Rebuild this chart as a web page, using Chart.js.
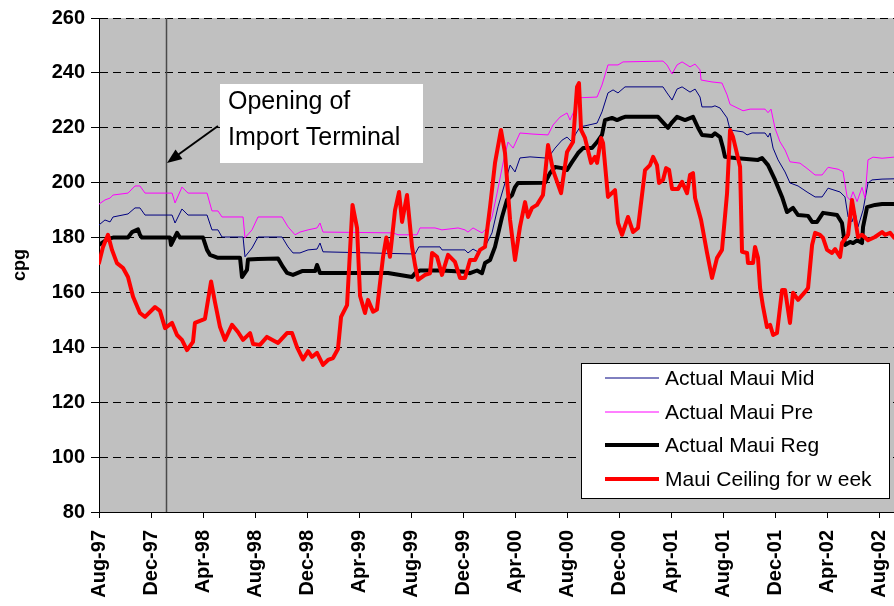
<!DOCTYPE html>
<html>
<head>
<meta charset="utf-8">
<script src="https://cdn.jsdelivr.net/npm/chart.js@4.4.0/dist/chart.umd.min.js"></script>
<style>
  html, body { margin: 0; padding: 0; background: #fff; }
</style>
</head>
<body>
<canvas id="myChart" width="894" height="606"></canvas>
<script>
// x values are months since Aug-97, y values are cents per gallon
var tickLabels = ['Aug-97', 'Dec-97', 'Apr-98', 'Aug-98', 'Dec-98', 'Apr-99', 'Aug-99', 'Dec-99',
                  'Apr-00', 'Aug-00', 'Dec-00', 'Apr-01', 'Aug-01', 'Dec-01', 'Apr-02', 'Aug-02'];
var lastMonth = 61.15;
var terminalOpen = 5.15; // opening of import terminal (early Jan-98)

var mauiMid = [[0,184.6],[0.46,186.4],[0.85,185.7],[1.08,187.5],[2.23,188.6],[2.77,190.8],[3.15,190.8],[3.54,188.2],
  [5.62,188.2],[5.85,185.3],[6.38,190.4],[6.85,188.2],[8.31,188.2],[8.69,182.8],[9.15,182.8],[9.46,180.2],
  [11.08,180.2],[11.23,173],[11.77,176.2],[12.23,180.2],[14.08,180.2],[14.54,176.6],[14.92,174.4],[15.46,174.4],
  [16.08,175.5],[16.77,175.8],[17.0,178],[17.23,174.8],[24.31,174],[24.6,176.6],[26.23,176.6],[26.38,175.5],
  [28.15,175.5],[28.38,174.4],[28.77,175.8],[29.15,174.8],[29.69,176.6],[30.23,181.7],[30.69,191.2],[31.23,199.9],
  [31.62,206.4],[32.0,203.9],[32.38,209],[33.15,209.4],[34.31,209],[34.69,210],[35.08,212.6],[35.62,215.5],
  [36.0,216.6],[36.38,214.8],[36.62,217.4],[37.0,220.3],[38.31,221.7],[38.69,225.8],[39.15,232.7],[39.54,233.8],
  [39.92,232.7],[40.46,234.9],[43.38,234.9],[43.69,232.7],[44.08,230.1],[44.46,234.1],[44.85,234.9],[45.46,233],
  [45.85,234.1],[46.23,231.2],[46.38,227.6],[47.15,227.6],[47.38,228],[47.77,227.2],[48.31,223.6],[48.54,219.2],
  [49.54,218.5],[49.85,217.4],[50.23,218.1],[51.23,218.1],[51.46,216.6],[51.62,218.1],[51.85,212.6],[52.23,208.3],
  [52.77,203.9],[53.15,199.9],[53.77,198.8],[54.46,196.6],[55.08,194.8],[55.62,194.8],[56.08,198],[57.0,196.6],
  [57.38,194.8],[57.62,187.5],[57.92,185.7],[58.15,189.3],[58.38,183.9],[58.77,190],[59.15,199.9],[59.46,201],
  [60.23,201.3],[61.15,201.4]];

var mauiPre = [[0,192.2],[0.46,193.7],[0.85,194.4],[1.08,195.5],[2.23,196.2],[2.77,198.8],[3.15,198.8],[3.54,196.2],
  [5.62,196.2],[5.85,192.6],[6.38,198.4],[6.85,196.2],[8.31,196.2],[8.69,189.7],[9.15,189.7],[9.46,187.5],
  [11.08,187.5],[11.23,179.9],[11.77,182.8],[12.23,187.5],[14.08,187.5],[14.54,183.9],[15.08,181],[15.46,182],
  [16.08,182.8],[16.77,183.5],[17.0,185.3],[17.23,182],[22.62,181.7],[23.0,181],[24.46,181],[24.69,183.5],
  [25.85,183.5],[26.38,182.8],[27.62,183.5],[28.15,182.8],[28.38,182],[28.77,183.5],[29.46,181.7],[29.85,183.5],
  [30.23,187.5],[30.62,196.2],[31.08,207.2],[31.46,214.8],[31.85,212.6],[32.38,218.1],[33.38,217.7],[34.54,217.4],
  [34.92,221],[35.46,223.9],[36.0,225.4],[36.23,222.8],[36.62,227],[36.77,230.9],[38.31,231.2],[38.69,235.6],
  [39.15,242.9],[39.92,242.9],[40.31,244],[43.38,244.3],[43.69,242.9],[44.08,239.6],[44.46,242.9],[44.85,244],
  [45.46,242.2],[45.85,243.2],[46.23,241.1],[46.31,237.4],[47.15,236.7],[47.92,236.3],[48.31,232],[48.54,228.5],
  [49.54,226.2],[50.08,226.8],[51.23,226.8],[51.46,225.5],[51.69,226.8],[52.0,219.8],[52.38,214.9],[52.77,211.9],
  [53.15,207.6],[53.92,207.1],[54.46,205.2],[55.08,202.8],[55.62,202.8],[56.08,205.6],[56.85,204.9],[57.23,204],
  [57.54,194.9],[57.77,193.7],[58.0,196.7],[58.31,193.1],[58.69,198.3],[58.92,194.3],[59.15,208.3],[59.54,209.3],
  [60.23,208.9],[61.15,209.3]];

var mauiReg = [[0,177.3],[0.69,179.5],[1.08,180],[2.23,180],[2.54,182],[3.0,183],[3.15,181],[3.3,180],
  [5.46,180],[5.54,177.3],[6.0,181.7],[6.23,180],[8.0,180],[8.31,175.5],[8.54,173.7],[9.15,172.6],
  [10.85,172.6],[11.0,165.6],[11.38,168.2],[11.46,172],[12.23,172.2],[13.77,172.4],[14.15,169.3],[14.46,167.1],
  [14.92,166.4],[15.62,167.8],[16.62,167.8],[16.77,170],[17.0,167.1],[22.23,167.1],[24.08,165.6],[24.31,167],
  [24.69,168],[26.38,168],[28.15,167.5],[28.54,167],[29.08,168],[29.46,167],[29.69,170.7],[30.08,171.8],
  [30.46,176.6],[31.0,187.5],[31.38,193.7],[31.77,195.5],[32.0,198.4],[32.23,199.9],[34.31,200],[34.69,203.5],
  [35.08,205.7],[35.62,205.3],[36.0,204.6],[36.38,207.5],[36.85,210.8],[37.23,212.6],[37.92,212.6],[38.31,214.8],
  [38.69,217.4],[38.92,222.8],[39.46,223.6],[39.85,222.8],[40.23,223.6],[40.46,224],[43.0,224],[43.38,222],
  [43.77,220],[44.08,222],[44.46,224],[45.08,222.8],[45.69,224],[46.08,220],[46.38,217.4],[47.15,217],
  [47.38,218],[47.77,216.6],[48.0,212.6],[48.15,209.4],[48.92,209],[50.69,208.3],[51.0,209],[51.46,206.4],
  [52.0,201],[52.54,194.8],[52.92,189.3],[53.38,190.8],[53.77,188.2],[54.54,187.9],[54.85,185.7],[55.23,185.7],
  [55.69,189],[56.77,188.2],[57.15,185.3],[57.38,177.3],[57.77,178.4],[58.0,178],[58.31,179],[58.69,178],
  [58.77,183.9],[59.08,191.1],[59.69,191.9],[60.23,192.2],[61.15,192.2]];

var mauiCeiling = [[0,170.7],[0.31,176.6],[0.69,181],[1.0,175.5],[1.38,170.7],[1.85,168.9],[2.23,165.6],[2.62,158.4],
  [3.15,152.5],[3.54,151.1],[4.31,154.7],[4.69,153.3],[5.08,147],[5.62,148.9],[6.0,144.5],[6.38,142.7],
  [6.77,139],[7.23,142],[7.38,148.9],[8.15,150.4],[8.62,164],[8.92,156.5],[9.31,147.4],[9.69,142.7],
  [10.23,148.2],[10.69,145.6],[11.08,142.7],[11.62,145.2],[11.85,141.2],[12.38,140.9],[12.92,143.8],[13.77,141.6],
  [14.46,145.2],[14.85,145.2],[15.23,140.1],[15.69,135.6],[16.08,138.6],[16.38,136.5],[16.77,138],[17.23,133.6],
  [17.62,135.4],[18.0,136.1],[18.38,139.4],[18.62,151.1],[19.08,155.4],[19.5,191.9],[19.85,183.4],[20.08,158.7],
  [20.46,152.5],[20.69,157.3],[21.08,153],[21.38,153.8],[21.85,173],[22.1,180],[22.38,173],[22.77,190],
  [23.08,196.6],[23.31,185.7],[23.69,195.5],[24.08,176.6],[24.31,170],[24.54,164.6],[25.08,166.4],[25.46,167],
  [25.62,174.4],[26.0,173],[26.38,166.4],[26.85,173.7],[27.38,171.1],[27.77,165.3],[28.15,165.3],[28.54,171.8],
  [28.92,171.8],[29.31,175.5],[29.69,176.6],[30.08,191.2],[30.46,207.2],[30.92,219.2],[31.23,210.8],[31.62,186.4],
  [32.0,171.8],[32.38,183.9],[32.77,192.9],[33.0,187.5],[33.31,190.8],[33.69,191.9],[34.15,195.5],[34.54,213.7],
  [34.92,204.6],[35.54,196.2],[36.0,211.2],[36.46,214.8],[36.77,234.9],[36.92,236.3],[37.08,219.2],[37.38,216.3],
  [37.85,207.2],[38.15,209.4],[38.31,207.2],[38.62,216.3],[38.77,214.5],[39.15,194.8],[39.69,197.3],[39.92,185.3],
  [40.23,181],[40.69,187.5],[41.08,182],[41.46,183.5],[42.0,204.6],[42.38,206.4],[42.62,209.4],[42.92,206.4],
  [43.08,199.9],[43.38,201],[43.62,205.3],[43.85,204.6],[44.08,197.7],[44.54,197.7],[44.85,200.3],[45.23,196.2],
  [45.46,202.8],[45.69,203.5],[45.85,194.4],[46.31,186.4],[46.77,174.4],[47.15,165.3],[47.54,172.6],[47.92,175.5],
  [48.31,196.2],[48.54,219.2],[48.77,216.6],[49.31,205.8],[49.46,174.8],[49.85,174.4],[49.92,170.7],[50.31,170.7],
  [50.46,176.6],[50.69,172.6],[50.85,161.6],[51.08,154.7],[51.38,147.4],[51.62,148.2],[51.85,144.5],[52.15,145.2],
  [52.54,160.9],[52.77,160.9],[53.15,148.9],[53.38,159.9],[53.77,157.3],[54.31,160.2],[54.54,161.6],[54.85,177.3],
  [55.08,181.7],[55.46,181],[55.69,179.9],[56.0,175.5],[56.38,174.4],[56.62,175.8],[57.0,172.9],[57.15,178],
  [57.62,181],[57.92,193.7],[58.15,187.1],[58.38,180.2],[58.69,181],[59.15,179],[59.69,180.2],[60.23,182],
  [60.46,181],[60.85,181.7],[61.15,180]];

var FONT = "'Liberation Sans', Arial, sans-serif";

function toPoints(list) {
    return list.map(function(p) { return {x: p[0], y: p[1]}; });
}

// grey plot area
var plotBackground = {
    id: 'plotBackground',
    beforeDraw: function(chart) {
        var a = chart.chartArea, c = chart.ctx;
        c.save();
        c.fillStyle = '#c0c0c0';
        c.fillRect(a.left, a.top, a.right - a.left, a.bottom - a.top);
        c.restore();
    }
};

// vertical marker for the terminal opening, under the lines
var terminalLine = {
    id: 'terminalLine',
    beforeDatasetsDraw: function(chart) {
        var a = chart.chartArea, c = chart.ctx;
        var x = Math.round(chart.scales.x.getPixelForValue(terminalOpen)) + 0.5;
        c.save();
        c.strokeStyle = '#4a4a4a';
        c.lineWidth = 1.5;
        c.beginPath();
        c.moveTo(x, a.top);
        c.lineTo(x, a.bottom);
        c.stroke();
        c.restore();
    }
};

// text box with arrow, and the boxed legend
var overlays = {
    id: 'overlays',
    afterDraw: function(chart) {
        var c = chart.ctx;
        var x = chart.scales.x.getPixelForValue(terminalOpen);
        c.save();
        c.fillStyle = '#fff';
        c.fillRect(220, 84, 203, 79);
        c.fillStyle = '#000';
        c.font = '25px ' + FONT;
        c.textBaseline = 'alphabetic';
        c.fillText('Opening of', 228, 109);
        c.fillText('Import Terminal', 228, 145);

        // arrow
        var tipX = x + 1, tipY = 163;
        c.strokeStyle = '#000';
        c.lineWidth = 2;
        c.beginPath();
        c.moveTo(218, 126);
        c.lineTo(tipX + 8, tipY - 6);
        c.stroke();
        var ang = Math.atan2(tipY - 126, tipX - 218);
        c.beginPath();
        c.moveTo(tipX, tipY);
        c.lineTo(tipX - 16 * Math.cos(ang - 0.38), tipY - 16 * Math.sin(ang - 0.38));
        c.lineTo(tipX - 16 * Math.cos(ang + 0.38), tipY - 16 * Math.sin(ang + 0.38));
        c.closePath();
        c.fill();

        // legend
        c.fillStyle = '#fff';
        c.fillRect(581, 363, 308, 135);
        c.strokeStyle = '#000';
        c.lineWidth = 1;
        c.strokeRect(581.5, 363.5, 308, 135);
        var rows = [378, 412, 445, 479];
        chart.data.datasets.forEach(function(ds, i) {
            c.strokeStyle = ds.borderColor;
            c.lineWidth = ds.borderWidth;
            c.beginPath();
            c.moveTo(605, rows[i]);
            c.lineTo(659, rows[i]);
            c.stroke();
            c.fillStyle = '#000';
            c.font = '21px ' + FONT;
            c.textBaseline = 'middle';
            c.fillText(ds.label, 665, rows[i] + 1);
        });
        c.restore();
    }
};

var ctx = document.getElementById('myChart');

var myChart = new Chart(ctx, {
    type: 'line',
    data: {
        datasets: [
            {
                label: 'Actual Maui Mid',
                data: toPoints(mauiMid),
                borderColor: '#000080',
                borderWidth: 1,
                order: 3
            },
            {
                label: 'Actual Maui Pre',
                data: toPoints(mauiPre),
                borderColor: '#ff00ff',
                borderWidth: 1,
                order: 2
            },
            {
                label: 'Actual Maui Reg',
                data: toPoints(mauiReg),
                borderColor: '#000000',
                borderWidth: 4,
                order: 1
            },
            {
                label: 'Maui Ceiling for w eek',
                data: toPoints(mauiCeiling),
                borderColor: '#ff0000',
                borderWidth: 4,
                order: 0
            }
        ]
    },
    options: {
        responsive: false,
        animation: false,
        devicePixelRatio: 1,
        layout: { padding: { top: 17.5, right: 0, bottom: 0, left: 0 } },
        elements: {
            point: { radius: 0 },
            line: { tension: 0, borderJoinStyle: 'round', borderCapStyle: 'round', fill: false }
        },
        plugins: {
            legend: { display: false },
            tooltip: { enabled: false }
        },
        scales: {
            x: {
                type: 'linear',
                min: 0,
                max: lastMonth,
                afterBuildTicks: function(scale) {
                    scale.ticks = tickLabels.map(function(l, i) { return {value: i * 4}; });
                },
                afterFit: function(scale) {
                    scale.height = 94;
                    scale.paddingLeft = 0;
                    scale.paddingRight = 0;
                },
                ticks: {
                    autoSkip: false,
                    minRotation: 90,
                    maxRotation: 90,
                    padding: 12,
                    color: '#000',
                    font: { family: FONT, size: 20, weight: 'bold' },
                    callback: function(value) {
                        return tickLabels[Math.round(value / 4)];
                    }
                },
                grid: {
                    drawOnChartArea: false,
                    drawTicks: true,
                    tickLength: 6,
                    color: '#000'
                },
                border: { color: '#000', width: 1 }
            },
            y: {
                min: 80,
                max: 260,
                afterFit: function(scale) {
                    scale.width = 99;
                },
                ticks: {
                    stepSize: 20,
                    padding: 6,
                    color: '#000',
                    font: { family: FONT, size: 20, weight: 'bold' }
                },
                title: {
                    display: true,
                    text: 'cpg',
                    color: '#000',
                    padding: { top: 9, bottom: 0 },
                    font: { family: FONT, size: 18, weight: 'bold' }
                },
                grid: {
                    color: '#000',
                    lineWidth: 1,
                    tickLength: 8,
                    tickBorderDash: []
                },
                border: { color: '#000', width: 1, dash: [8, 5] }
            }
        }
    },
    plugins: [plotBackground, terminalLine, overlays]
});
</script>
</body>
</html>
